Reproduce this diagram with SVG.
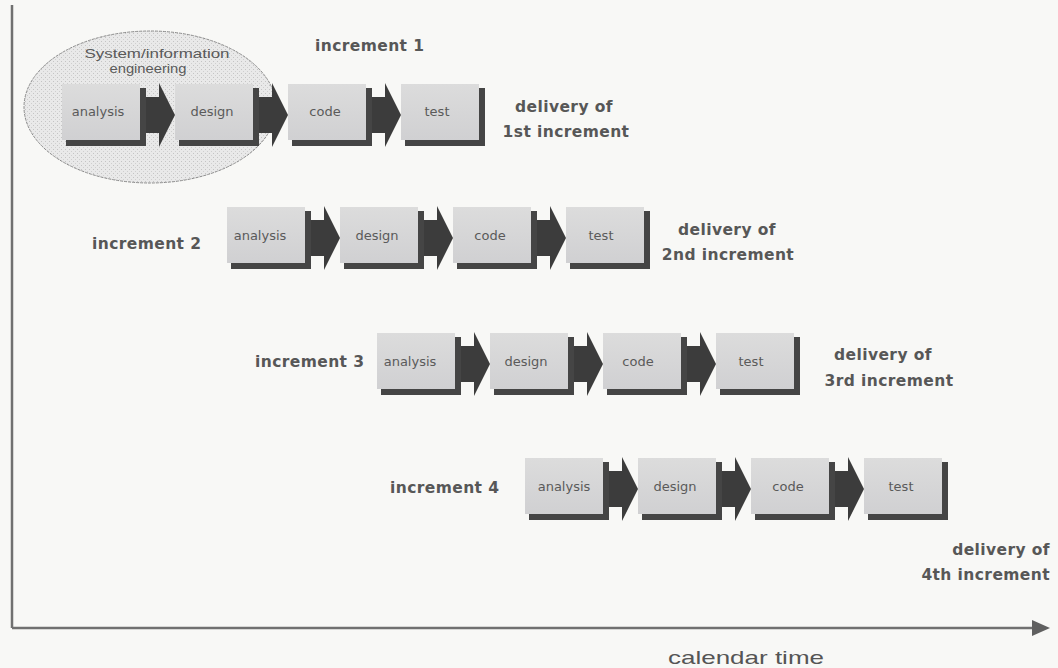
<svg xmlns="http://www.w3.org/2000/svg" width="1058" height="668" viewBox="0 0 1058 668">
<defs>
<style>
.lbl{font-family:"DejaVu Sans",Verdana,sans-serif;font-size:15.5px;font-weight:bold;fill:#575757;letter-spacing:0.4px;}
.bt{font-family:"DejaVu Sans",Verdana,sans-serif;font-size:13px;fill:#5a5a5a;text-anchor:middle;}
.face{fill:url(#fg);}
.sh{fill:#454545;}
.arr{fill:#3c3c3c;}
.ax{stroke:#707070;stroke-width:2.5;fill:none;}
.el{font-family:"Liberation Sans",Arial,sans-serif;font-size:13px;fill:#5a5a5a;}
</style>
<linearGradient id="fg" x1="0" y1="0" x2="0" y2="1">
<stop offset="0" stop-color="#dcdcdc"/>
<stop offset="1" stop-color="#d0d0d2"/>
</linearGradient>
<pattern id="dots" width="4" height="4" patternUnits="userSpaceOnUse">
<rect width="4" height="4" fill="#e9e9e9"/>
<rect x="1" y="1" width="1" height="1" fill="#c4c4c4"/>
<rect x="3" y="3" width="1" height="1" fill="#cfcfcf"/>
</pattern>
<g id="box"><rect class="sh" x="4" y="4" width="80" height="58"/><rect class="face" x="0" y="0" width="78" height="56"/></g>
<path id="blk" class="arr" d="M80,13 H97 V-1 L113,31 L97,63 V49 H80 Z"/>
</defs>
<rect width="1058" height="668" fill="#f8f8f6"/>

<g id="axes">
<line class="ax" x1="12" y1="5" x2="12" y2="628"/>
<line class="ax" x1="12" y1="628" x2="1040" y2="628"/>
<path d="M1032,620 L1050,628 L1032,636 Z" fill="#606060"/>
<text x="746" y="664" text-anchor="middle" textLength="156" lengthAdjust="spacingAndGlyphs" style="font-family:'Liberation Sans',Arial,sans-serif;font-size:19px;fill:#555">calendar time</text>
</g>

<g id="sys-info-eng">
<ellipse cx="150" cy="107" rx="126" ry="76" fill="url(#dots)" stroke="#8a8a8a" stroke-width="1" stroke-dasharray="3,1"/>
<text class="el" x="157" y="58" text-anchor="middle" textLength="145" lengthAdjust="spacingAndGlyphs">System/information</text>
<text class="el" x="148" y="73" text-anchor="middle" textLength="77" lengthAdjust="spacingAndGlyphs">engineering</text>
</g>

<g id="connectors">
<use href="#blk" x="62" y="84"/><use href="#blk" x="175" y="84"/><use href="#blk" x="288" y="84"/>
<use href="#blk" x="227" y="207"/><use href="#blk" x="340" y="207"/><use href="#blk" x="453" y="207"/>
<use href="#blk" x="377" y="333"/><use href="#blk" x="490" y="333"/><use href="#blk" x="603" y="333"/>
<use href="#blk" x="525" y="458"/><use href="#blk" x="638" y="458"/><use href="#blk" x="751" y="458"/>
</g>

<g id="inc1">
<text class="lbl" x="315" y="51">increment 1</text>
<g id="i1-analysis"><use href="#box" x="62" y="84"/><text class="bt" x="98" y="116">analysis</text></g>
<g id="i1-design"><use href="#box" x="175" y="84"/><text class="bt" x="212" y="116">design</text></g>
<g id="i1-code"><use href="#box" x="288" y="84"/><text class="bt" x="325" y="116">code</text></g>
<g id="i1-test"><use href="#box" x="401" y="84"/><text class="bt" x="437" y="116">test</text></g>
<text class="lbl" x="564" y="112" text-anchor="middle">delivery of</text>
<text class="lbl" x="566" y="137" text-anchor="middle">1st increment</text>
</g>

<g id="inc2">
<text class="lbl" x="92" y="249">increment 2</text>
<g id="i2-analysis"><use href="#box" x="227" y="207"/><text class="bt" x="260" y="240">analysis</text></g>
<g id="i2-design"><use href="#box" x="340" y="207"/><text class="bt" x="377" y="240">design</text></g>
<g id="i2-code"><use href="#box" x="453" y="207"/><text class="bt" x="490" y="240">code</text></g>
<g id="i2-test"><use href="#box" x="566" y="207"/><text class="bt" x="601" y="240">test</text></g>
<text class="lbl" x="727" y="235" text-anchor="middle">delivery of</text>
<text class="lbl" x="728" y="260" text-anchor="middle">2nd increment</text>
</g>

<g id="inc3">
<text class="lbl" x="255" y="367">increment 3</text>
<g id="i3-analysis"><use href="#box" x="377" y="333"/><text class="bt" x="410" y="366">analysis</text></g>
<g id="i3-design"><use href="#box" x="490" y="333"/><text class="bt" x="526" y="366">design</text></g>
<g id="i3-code"><use href="#box" x="603" y="333"/><text class="bt" x="638" y="366">code</text></g>
<g id="i3-test"><use href="#box" x="716" y="333"/><text class="bt" x="751" y="366">test</text></g>
<text class="lbl" x="883" y="360" text-anchor="middle">delivery of</text>
<text class="lbl" x="889" y="386" text-anchor="middle">3rd increment</text>
</g>

<g id="inc4">
<text class="lbl" x="390" y="493">increment 4</text>
<g id="i4-analysis"><use href="#box" x="525" y="458"/><text class="bt" x="564" y="491">analysis</text></g>
<g id="i4-design"><use href="#box" x="638" y="458"/><text class="bt" x="675" y="491">design</text></g>
<g id="i4-code"><use href="#box" x="751" y="458"/><text class="bt" x="788" y="491">code</text></g>
<g id="i4-test"><use href="#box" x="864" y="458"/><text class="bt" x="901" y="491">test</text></g>
<text class="lbl" x="1050" y="555" text-anchor="end">delivery of</text>
<text class="lbl" x="1050" y="580" text-anchor="end">4th increment</text>
</g>
</svg>
